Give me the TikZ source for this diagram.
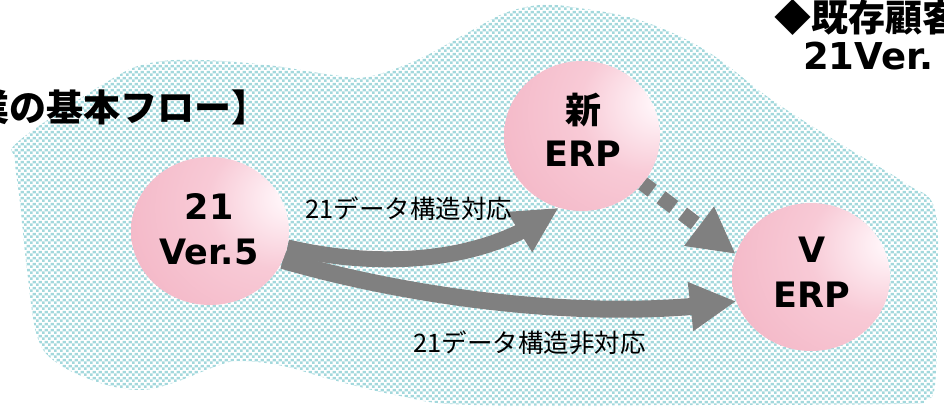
\documentclass[tikz,border=0pt]{standalone}
\usepackage{fontspec}
\usetikzlibrary{arrows.meta,bending,shapes.geometric,patterns.meta}
\newfontfamily\jpfont{Noto Sans CJK JP}
\newfontfamily\latfont{DejaVu Sans}
\definecolor{pkhi}{HTML}{FFF4F8}
\definecolor{pkmid}{HTML}{F8CAD6}
\definecolor{pklow}{HTML}{F3B5C5}
\definecolor{pkedge}{HTML}{EEADBF}
\definecolor{tealdot}{HTML}{A3D8DC}
\definecolor{arrowgray}{HTML}{808080}
\pgfdeclareradialshading{pinkball}{\pgfpoint{27bp}{12bp}}{color(0bp)=(pkhi); color(4bp)=(pkhi); color(22bp)=(pkmid); color(48bp)=(pklow); color(78bp)=(pkedge); color(100bp)=(pkedge)}
\tikzdeclarepattern{
  name=tealdots,
  type=colored,
  bottom left={(0pt,0pt)},
  top right={(6pt,6pt)},
  tile size={(6pt,6pt)},
  code={
    \fill[tealdot] (0pt,0pt) rectangle (3pt,3pt);
    \fill[tealdot] (3pt,3pt) rectangle (6pt,6pt);
  }
}
\pgfdeclarelayer{blob}
\pgfdeclarelayer{arrows}
\pgfsetlayers{blob,arrows,main}
\begin{document}
\begin{tikzpicture}[x=1pt,y=1pt,
  sphere/.style={ellipse, minimum width=158pt, minimum height=148pt, inner sep=0pt, shade, shading=pinkball},
  spheretext/.style={anchor=base, inner sep=0pt, font=\latfont\bfseries\fontsize{35}{42}\selectfont},
  spherejp/.style={anchor=base, inner sep=0pt, font=\jpfont\bfseries\fontsize{36}{42}\selectfont},
  bigarrow/.style={draw=arrowgray, line width=16pt, -{Triangle[length=46pt,width=44pt]}},
  dasharrow/.style={draw=arrowgray, line width=15pt, dash pattern=on 16pt off 11pt, dash phase=4pt, -{Triangle[length=46pt,width=46pt]}},
  lbl/.style={inner sep=0pt, font=\jpfont\fontsize{25.5}{30}\selectfont},
  headjp/.style={inner sep=0pt, font=\jpfont\bfseries\fontsize{37}{44}\selectfont},
  headlat/.style={inner sep=0pt, font=\latfont\bfseries\fontsize{37}{44}\selectfont}
]
\useasboundingbox (0,0) rectangle (944,406);
\clip (0,0) rectangle (944,406);

\begin{pgfonlayer}{blob}
\fill[pattern=tealdots] plot[smooth cycle, tension=0.6] coordinates {
 (20,266) (110,326) (150,343) (200,346) (267,341) (333,331) (367,329)
 (417,346) (467,373) (505,393) (540,401) (572,399) (639,386) (705,356)
 (772,306) (839,263) (905,223) (935,196) (937,106) (935,21) (925,6)
 (900,2) (700,1) (472,1) (400,10) (333,26) (283,40) (240,45) (217,40)
 (173,23) (140,16) (100,23) (57,43) (37,70) (27,136) (20,203) (15,246)};
\end{pgfonlayer}

% spheres
\node[sphere] (v5) at (210,175) {};
\node[sphere, minimum width=156pt, minimum height=150pt] (nerp) at (582,270) {};
\node[sphere] (verp) at (811,129) {};

% arrows
\begin{pgfonlayer}{arrows}
\draw[bigarrow] (v5.-12) .. controls (375,138) and (485,140) .. (nerp.-108);
\draw[bigarrow, -{Triangle[length=46pt,width=46pt]}, line width=17pt] (v5.-22) .. controls (420,106) and (600,84) .. (verp.-162);
\draw[dasharrow] (nerp.-38) -- (verp.163);
\end{pgfonlayer}

% sphere texts
\node[spheretext] (v5a) at (209,186) {21};
\node[spheretext] (v5b) at (209,141) {Ver.5};
\node[spherejp] (nerpa) at (583,282) {新};
\node[spheretext] (nerpb) at (583,239) {ERP};
\node[spheretext] (verpa) at (812,143) {V};
\node[spheretext] (verpb) at (812,98) {ERP};

% edge labels
\node[lbl] (l1) at (409,197) {21データ構造対応};
\node[lbl] (l2) at (529.5,63) {21データ構造非対応};

% headings
\node[headjp, anchor=west] (title) at (-28,298.5) {業の基本フロー】};
\node[headjp, anchor=west] (head1) at (774,388.5) {◆既存顧客};
\node[headlat, anchor=base west] (head2) at (803,336) {21Ver.};
\end{tikzpicture}
\end{document}
